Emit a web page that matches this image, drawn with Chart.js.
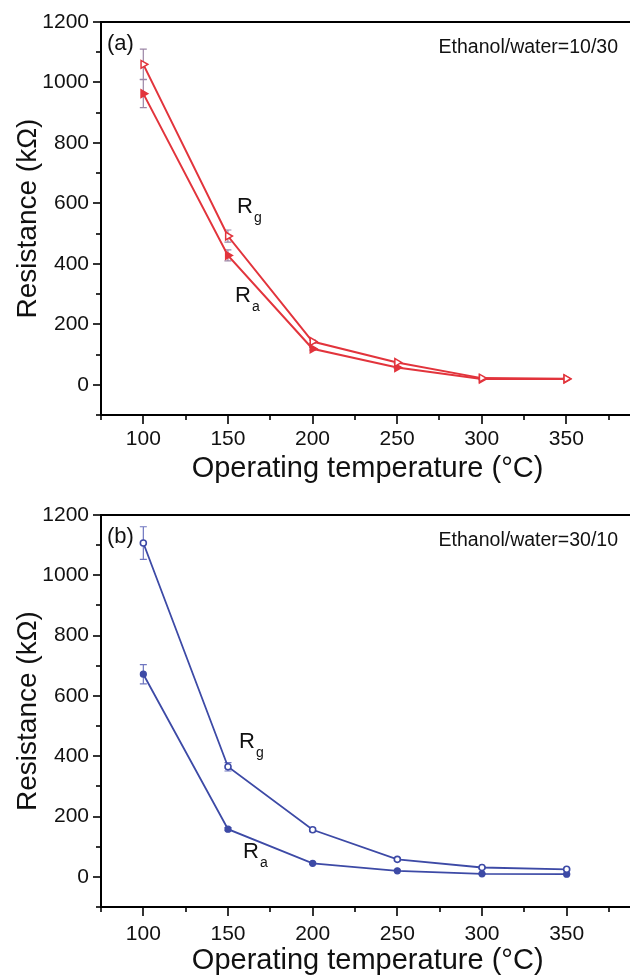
<!DOCTYPE html>
<html><head><meta charset="utf-8">
<script src="https://cdn.jsdelivr.net/npm/chart.js@4.4.1/dist/chart.umd.min.js"></script>
<style>
html,body{margin:0;padding:0;background:#fff;overflow:hidden;width:630px;height:978px;}
canvas{display:block;}
</style></head>
<body>
<canvas id="c1" width="640" height="489"></canvas>
<canvas id="c2" width="640" height="489"></canvas>
<script>
// ---- data ----
const temperatures = [100, 150, 200, 250, 300, 350];
const xTickValues = [100, 150, 200, 250, 300, 350];
const yTickValues = [0, 200, 400, 600, 800, 1000, 1200];
const rgA = [1060, 492, 143, 74, 22, 20];
const raA = [963, 428, 119, 57, 19, 19];
const rgAErr = [50, 20, 5, 3, 2, 2];
const raAErr = [46, 18, 4, 3, 2, 2];
const rgB = [1107, 365, 156, 58, 31, 25];
const raB = [672, 158, 45, 20, 10, 9];
const rgBErr = [54, 14, 6, 4, 3, 3];
const raBErr = [32, 5, 3, 2, 2, 2];
const panelLabels = ['(a)', '(b)'];
const ratioLabels = ['Ethanol/water=10/30', 'Ethanol/water=30/10'];
const xTitle = 'Operating temperature (°C)';
const yTitle = 'Resistance (kΩ)';

const FONT = "'Liberation Sans', Arial, Helvetica, sans-serif";
const pts = (vals) => vals.map((v, i) => ({x: temperatures[i], y: v}));

function decoPlugin(cfg) {
  return {
    id: 'deco',
    beforeDatasetsDraw(chart) {
      const ctx = chart.ctx, xs = chart.scales.x, ys = chart.scales.y;
      ctx.save();
      ctx.strokeStyle = cfg.errColor;
      ctx.lineWidth = 1.2;
      cfg.errors.forEach(([vals, errs]) => {
        vals.forEach((v, i) => {
          const px = xs.getPixelForValue(temperatures[i]);
          const t = ys.getPixelForValue(v + errs[i]);
          const b = ys.getPixelForValue(v - errs[i]);
          ctx.beginPath();
          ctx.moveTo(px, t); ctx.lineTo(px, b);
          ctx.moveTo(px - 3.5, t); ctx.lineTo(px + 3.5, t);
          ctx.moveTo(px - 3.5, b); ctx.lineTo(px + 3.5, b);
          ctx.stroke();
        });
      });
      ctx.restore();
    },
    afterDraw(chart) {
      const ctx = chart.ctx, xs = chart.scales.x, ys = chart.scales.y, a = chart.chartArea;
      ctx.save();
      ctx.strokeStyle = '#000';
      ctx.lineWidth = 2;
      ctx.beginPath(); ctx.moveTo(a.left - 1, a.top); ctx.lineTo(a.right, a.top); ctx.stroke();
      ctx.lineWidth = 1.6;
      for (let v = ys.min; v <= ys.max; v += 100) {
        const p = Math.round(ys.getPixelForValue(v));
        const len = (v % 200 === 0) ? 8 : 5;
        ctx.beginPath(); ctx.moveTo(a.left, p); ctx.lineTo(a.left - len, p); ctx.stroke();
      }
      for (let v = 75; v <= xs.max; v += 25) {
        const p = Math.round(xs.getPixelForValue(v));
        const len = (v % 50 === 0) ? 9 : 5;
        ctx.beginPath(); ctx.moveTo(p, a.bottom); ctx.lineTo(p, a.bottom + len); ctx.stroke();
      }
      ctx.fillStyle = '#111';
      ctx.textBaseline = 'middle';
      ctx.textAlign = 'left';
      ctx.font = '22px ' + FONT;
      ctx.fillText(cfg.panel, a.left + 6, a.top + cfg.panelDy);
      ctx.font = '19.5px ' + FONT;
      ctx.textAlign = 'right';
      ctx.fillText(cfg.ratio, 618, a.top + cfg.panelDy + 4);
      ctx.textAlign = 'left';
      ctx.textBaseline = 'alphabetic';
      cfg.notes.forEach(n => {
        ctx.font = '22px ' + FONT;
        ctx.fillText('R', n.x, n.y);
        ctx.font = '14px ' + FONT;
        ctx.fillText(n.sub, n.x + 17, n.y + 9);
      });
      ctx.restore();
    }
  };
}

function makeChart(id, datasets, cfg) {
  return new Chart(document.getElementById(id), {
    type: 'line',
    data: {datasets},
    options: {
      responsive: false,
      animation: false,
      devicePixelRatio: 1,
      layout: {padding: {top: cfg.top, right: 0, left: 0, bottom: 0}},
      plugins: {legend: {display: false}, tooltip: {enabled: false}},
      elements: {line: {tension: 0}},
      scales: {
        x: {
          type: 'linear', min: 75, max: 390,
          afterBuildTicks: s => { s.ticks = xTickValues.map(v => ({value: v})); },
          afterFit: s => { s.height = cfg.xHeight; },
          border: {display: true, color: '#000', width: 2},
          grid: {display: true, drawOnChartArea: false, drawTicks: true, tickLength: 9, color: 'rgba(0,0,0,0)'},
          ticks: {color: '#111', font: {family: FONT, size: 21}, padding: cfg.xTickPad, maxRotation: 0,
                  callback: v => String(v)},
          title: {display: true, text: xTitle, color: '#111', font: {family: FONT, size: 29}, padding: {top: 0, bottom: cfg.xTitlePad}}
        },
        y: {
          type: 'linear', min: -100, max: 1200,
          afterBuildTicks: s => { s.ticks = yTickValues.map(v => ({value: v})); },
          afterFit: s => { s.width = 101; },
          border: {display: true, color: '#000', width: 2},
          grid: {display: true, drawOnChartArea: false, drawTicks: true, tickLength: 8, color: 'rgba(0,0,0,0)'},
          ticks: {color: '#111', font: {family: FONT, size: 21}, padding: 4, callback: v => String(v)},
          title: {display: true, text: yTitle, color: '#111', font: {family: FONT, size: 28}, padding: {top: 11, bottom: 0}}
        }
      }
    },
    plugins: [decoPlugin(cfg)]
  });
}

const RED = '#e2343c';
const BLUE = '#3d4aa6';

makeChart('c1', [
  {label: 'Rg', data: pts(rgA), borderColor: RED, borderWidth: 2, pointStyle: 'triangle', rotation: 90,
   pointRadius: 4.5, pointBorderWidth: 1.5, pointBackgroundColor: '#fff', pointBorderColor: RED},
  {label: 'Ra', data: pts(raA), borderColor: RED, borderWidth: 2, pointStyle: 'triangle', rotation: 90,
   pointRadius: 4.5, pointBorderWidth: 1.5, pointBackgroundColor: RED, pointBorderColor: RED}
], {
  top: 22, xHeight: 74, xTickPad: 3, xTitlePad: 3,
  errColor: '#9c86a6', errors: [[rgA, rgAErr], [raA, raAErr]],
  panel: panelLabels[0], ratio: ratioLabels[0], panelDy: 22,
  notes: [{x: 237, y: 213, sub: 'g'}, {x: 235, y: 302, sub: 'a'}]
});

makeChart('c2', [
  {label: 'Rg', data: pts(rgB), borderColor: BLUE, borderWidth: 1.8, pointStyle: 'circle',
   pointRadius: 3, pointBorderWidth: 1.6, pointBackgroundColor: '#fff', pointBorderColor: BLUE},
  {label: 'Ra', data: pts(raB), borderColor: BLUE, borderWidth: 1.8, pointStyle: 'circle',
   pointRadius: 3, pointBorderWidth: 1.2, pointBackgroundColor: BLUE, pointBorderColor: BLUE}
], {
  top: 26, xHeight: 71, xTickPad: 6, xTitlePad: 0,
  errColor: '#6f76c0', errors: [[rgB, rgBErr], [raB, raBErr]],
  panel: panelLabels[1], ratio: ratioLabels[1], panelDy: 22,
  notes: [{x: 239, y: 748 - 489, sub: 'g'}, {x: 243, y: 858 - 489, sub: 'a'}]
});
</script>
</body></html>
